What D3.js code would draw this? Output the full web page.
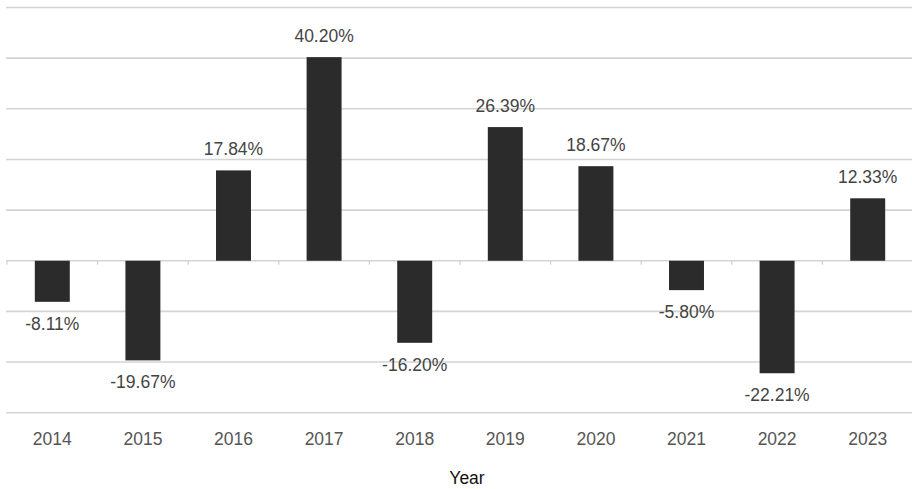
<!DOCTYPE html>
<html>
<head>
<meta charset="utf-8">
<script src="https://cdn.jsdelivr.net/npm/d3@7"></script>
<style>
  html, body { margin: 0; padding: 0; background: #fff; }
  svg { display: block; font-family: "Liberation Sans", Arial, sans-serif; }
</style>
</head>
<body>
<svg id="chart" width="912" height="489"></svg>
<script>
const years = ["2014","2015","2016","2017","2018","2019","2020","2021","2022","2023"];
const returns = [-8.11, -19.67, 17.84, 40.20, -16.20, 26.39, 18.67, -5.80, -22.21, 12.33];
const gridTicks = [-30, -20, -10, 0, 10, 20, 30, 40, 50];
const xTitle = "Year";

const svg = d3.select("#chart");
const W = 912;

const x = d3.scaleBand().domain(years).range([7, 913]).paddingInner(0.614).paddingOuter(0.307);
const y = d3.scaleLinear().domain([-30, 50]).range([412.7, 7.5]);

// gridlines
svg.append("g").selectAll("line").data(gridTicks).join("line")
  .attr("x1", 6).attr("x2", W)
  .attr("y1", d => y(d)).attr("y2", d => y(d))
  .attr("stroke", "#d4d4d4").attr("stroke-width", 1.6);

// zero-line ticks at band boundaries
const step = x.step();
const bounds = years.map(yr => x(yr) - x.paddingOuter() * 0 - (step - x.bandwidth()) / 2);
svg.append("g").selectAll("line").data(bounds).join("line")
  .attr("x1", d => d).attr("x2", d => d)
  .attr("y1", y(0)).attr("y2", y(0) + 4)
  .attr("stroke", "#cfcfcf").attr("stroke-width", 1.2);

// bars
svg.append("g").selectAll("rect").data(years).join("rect")
  .attr("x", d => x(d))
  .attr("width", x.bandwidth())
  .attr("y", (d, i) => y(Math.max(0, returns[i])))
  .attr("height", (d, i) => Math.abs(y(returns[i]) - y(0)))
  .attr("fill", "#2b2b2b");

// value labels
svg.append("g").selectAll("text").data(years).join("text")
  .attr("x", d => x(d) + x.bandwidth() / 2)
  .attr("y", (d, i) => returns[i] >= 0 ? y(returns[i]) - 15 : y(returns[i]) + 28)
  .attr("text-anchor", "middle")
  .attr("font-size", 17.5)
  .attr("fill", "#444")
  .text((d, i) => returns[i].toFixed(2) + "%");

// x axis labels
const xAxis = d3.axisBottom(x).tickSize(0).tickPadding(0);
const gx = svg.append("g").attr("transform", `translate(0, 432)`).call(xAxis);
gx.select(".domain").remove();
gx.selectAll("text")
  .attr("font-size", 17.5)
  .attr("font-family", "\"Liberation Sans\", Arial, sans-serif")
  .attr("fill", "#555")
  .attr("dy", "0.75em");

// x title
svg.append("text")
  .attr("x", 467).attr("y", 484.3)
  .attr("text-anchor", "middle")
  .attr("font-size", 17.5)
  .attr("fill", "#111")
  .text(xTitle);
</script>
</body>
</html>
